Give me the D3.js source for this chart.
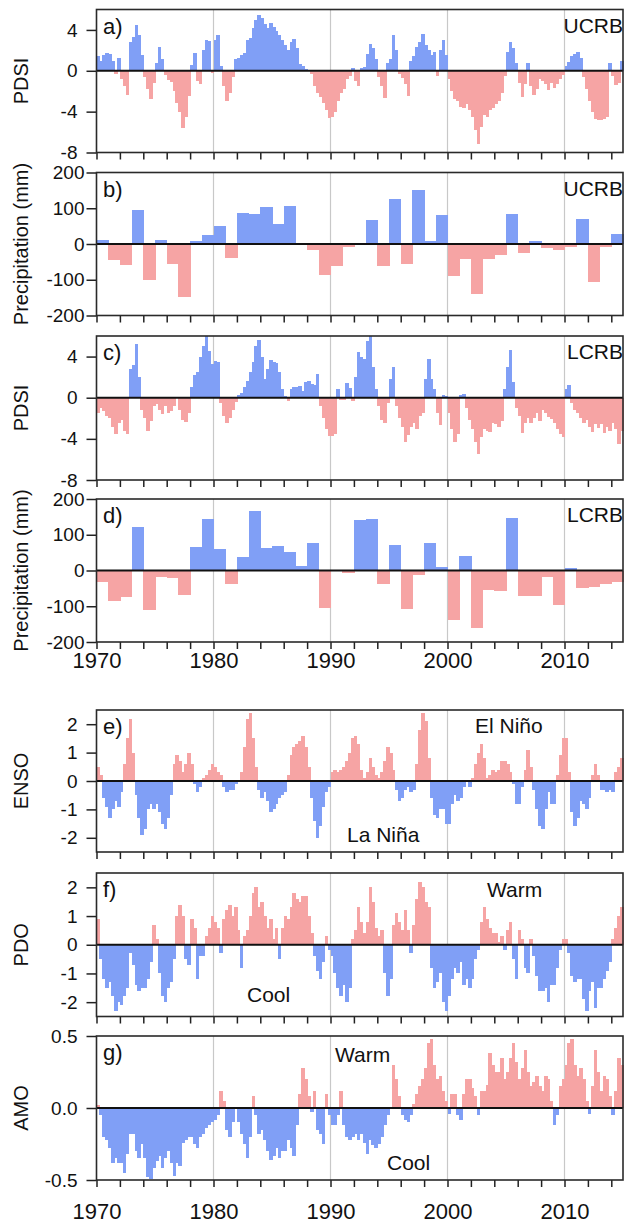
<!DOCTYPE html>
<html>
<head>
<meta charset="utf-8">
<script src="https://cdn.jsdelivr.net/npm/d3@7"></script>
<style>
  body { margin: 0; background: #fff; }
  svg text { font-family: "Liberation Sans", Arial, sans-serif; fill: #111; }
</style>
</head>
<body>
<svg id="chart" width="626" height="1226"></svg>
<script>
"use strict";

// quarterly series, first value = Jan-Mar 1970
var firstYear = 1970;
var quarter = 0.25;

var pdsiUCRB = [
  1.4, 1.0, 1.5, 1.7,   1.6, 1.0, -0.3, 1.3,   -0.8, -1.5, -2.4, 2.8,   3.3, 4.5, 3.5, 1.5,
  -0.6, -1.8, -2.8, -1.2,   0.8, 2.3, 1.2, -0.4,   -0.9, -1.1, -2.0, -3.2,   -4.0, -5.6, -4.5, -2.5,
  0.6, 1.7, -1.0, -1.3,   2.0, 3.0, 2.9, -0.2,   3.0, 3.5, 0.5, -1.5,   -3.0, -2.2, -0.6, 1.2,
  1.3, 1.5, 1.7, 3.0,   3.2, 4.2, 5.0, 5.5,   5.2, 4.6, 4.2, 4.7,   4.3, 3.9, 3.5, 3.0,
  2.5, 2.0, 2.8, 3.1,   2.2, 0.7, 0.5, 0.2,   0.1, -0.3, -1.5, -2.2,   -2.6, -3.2, -3.8, -4.6,
  -4.5, -4.0, -3.0, -2.2,   -1.8, -0.8, -0.5, 0.3,   -1.0, -1.5, 0.3, 0.4,   1.6, 2.6, 2.2, 1.2,
  -0.6, -1.5, -2.7, 0.8,   1.2, 3.5, 2.0, -0.3,   -0.7, -1.3, -2.5, 1.0,   1.4, 2.3, 2.8, 3.6,
  2.5, 2.0, 1.5, 1.8,   -0.5, 2.0, 3.0, 1.5,   -0.8, -2.0, -2.8, -3.0,   -3.5, -3.6, -3.3, -3.8,
  -4.5, -5.8, -7.2, -5.5,   -4.3, -4.5, -3.8, -3.6,   -3.3, -3.0, -2.2, -0.5,   1.8, 2.8, 2.2, 0.8,
  -1.2, -2.6, -1.3, 0.8,   -1.5, -2.4, -1.8, -0.8,   -1.0, -1.3, -1.9, -1.2,   -1.7, -1.3, -0.8, -0.4,
  0.5, 0.9, 1.4, 1.6,   1.8, 1.3, -0.6, -1.8,   -3.0, -4.0, -4.7, -4.8,   -4.8, -4.7, -4.5, 0.8,
  -0.5, -1.4, -1.2, 1.0
];

var pdsiLCRB = [
  -1.5, -1.0, -1.3, -1.8,   -2.0, -2.8, -3.5, -2.5,   -2.2, -3.2, -3.5, 2.8,   3.2, 5.2, 2.0, -1.2,
  -2.0, -3.2, -2.3, -0.8,   -0.6, -1.2, -1.6, -0.8,   -1.5, -1.3, -0.8, 0.1,   -1.2, -2.2, -2.4, -1.5,
  1.0, 2.2, 2.5, 4.0,   5.0, 6.0, 4.5, 3.3,   3.6, 3.5, -0.5, -1.8,   -2.5, -2.0, -1.2, -0.4,
  0.3, 0.5, 1.0, 1.6,   2.5, 3.5, 5.0, 5.6,   4.0, 1.8, 2.8, 3.7,   3.5, 3.4, 2.5, 0.8,
  0.2, -0.3, 0.8, 1.0,   1.0, 1.1, 0.7, 1.5,   1.6, 1.3, 1.2, 2.3,   -0.8, -2.0, -3.0, -3.7,
  -3.7, -3.5, 0.8, -0.2,   -0.2, 1.4, 0.9, -0.3,   2.0, 4.4, 4.0, 3.8,   5.5, 6.0, 3.0, 0.8,
  -0.8, -2.2, -2.5, -0.5,   1.8, 3.0, -0.8, -2.0,   -2.8, -4.3, -3.6, -2.8,   -2.5, -3.0, -1.8, -1.5,
  1.8, 3.8, 1.8, 0.8,   -1.5, -2.7, 0.3, 0.2,   -1.5, -3.0, -4.3, -3.5,   0.3, 0.4, -1.0, -2.2,
  -3.0, -4.3, -5.5, -3.8,   -3.0, -3.2, -3.3, -2.5,   -2.6, -2.8, -2.3, 0.8,   3.0, 4.6, 1.5, -1.0,
  -1.8, -3.4, -2.5, -2.0,   -2.5, -2.0, -1.5, -2.3,   -1.2, -1.5, -1.9, -2.1,   -2.5, -3.0, -3.5, -3.8,
  0.8, 1.2, -0.5, -1.2,   -1.5, -2.0, -2.5, -2.2,   -2.8, -3.3, -2.6, -2.9,   -2.6, -3.4, -2.8, -3.2,
  -2.5, -3.0, -4.5, -3.2
];

var ensoIndex = [
  0.5, 0.2, -0.6, -0.9,   -1.3, -1.0, -0.7, -0.9,   -0.4, 0.6, 1.5, 2.2,   1.0, -0.5, -1.3, -1.9,
  -1.7, -1.0, -0.8, -1.0,   -0.8, -1.1, -1.5, -1.7,   -1.3, -0.5, 0.6, 0.9,   0.7, 0.3, 0.6, 1.0,
  0.6, -0.1, -0.4, -0.2,   0.1, 0.2, 0.4, 0.6,   0.5, 0.3, 0.2, -0.2,   -0.4, -0.3, -0.3, -0.1,
  0.0, 0.3, 1.2, 2.2,   2.4, 1.5, 0.5, -0.3,   -0.6, -0.4, -0.7, -1.1,   -1.0, -0.8, -0.6, -0.5,
  -0.4, 0.2, 0.9, 1.2,   1.3, 1.4, 1.6, 1.2,   0.5, -0.6, -1.4, -2.0,   -1.6, -0.9, -0.4, -0.2,
  0.3, 0.4, 0.3, 0.4,   0.5, 0.7, 1.0, 1.5,   1.6, 1.3, 0.4, 0.1,   0.3, 0.8, 0.5, 0.2,
  0.1, 0.3, 0.7, 1.2,   1.0, 0.4, -0.3, -0.7,   -0.6, -0.3, -0.2, -0.4,   -0.3, 0.6, 1.8, 2.4,
  2.1, 0.8, -0.6, -1.2,   -1.3, -1.0, -1.0, -1.5,   -1.5, -0.8, -0.5, -0.7,   -0.6, -0.2, 0.0, -0.2,
  0.1, 0.6, 1.0, 1.3,   0.8, 0.1, 0.2, 0.4,   0.3, 0.4, 0.7, 0.7,   0.6, 0.3, -0.1, -0.8,
  -0.8, -0.2, 0.4, 1.1,   0.5, -0.3, -1.0, -1.6,   -1.7, -1.0, -0.4, -0.8,   -0.8, 0.2, 0.9, 1.5,
  1.5, 0.3, -1.1, -1.6,   -1.3, -0.7, -0.8, -1.0,   -0.6, 0.2, 0.6, 0.2,   -0.3, -0.3, -0.4, -0.3,
  -0.4, 0.3, 0.5, 0.8
];

var pdoIndex = [
  0.9, -0.5, -1.2, -1.5,   -1.3, -1.8, -2.3, -2.0,   -2.1, -1.8, -1.5, -0.3,   -0.7, -1.4, -1.6, -1.5,
  -1.5, -1.2, -0.6, 0.7,   0.2, -1.0, -1.8, -2.0,   -1.5, -1.3, -0.5, 1.0,   1.4, 1.0, -0.5, -0.7,
  0.9, 0.6, -1.2, -0.4,   -0.4, 0.3, 0.6, 1.0,   0.8, 0.6, -0.3, 0.9,   1.2, 1.4, 1.0, 1.3,
  0.5, -0.8, 0.3, 0.5,   1.0, 1.8, 2.0, 1.3,   1.5, 1.0, 0.6, 0.9,   0.2, 0.6, -0.5, 0.6,
  1.0, 0.9, 1.3, 1.8,   1.6, 1.5, 1.7, 1.7,   1.0, 0.4, -0.4, -0.9,   -1.2, -0.6, 0.3, -0.2,
  -0.4, -1.0, -1.5, -1.8,   -1.4, -2.0, -1.5, 0.2,   0.5, 1.3, 0.8, 0.4,   0.8, 2.0, 1.5, 0.6,
  0.3, 0.5, -1.0, -1.8,   -1.2, 0.7, 1.1, 0.8,   0.5, 1.2, 0.5, -0.3,   0.7, 1.6, 2.2, 2.0,
  1.5, 1.3, -0.8, -1.5,   -1.3, -1.0, -2.0, -2.3,   -1.8, -1.2, -0.8, -1.0,   -0.6, -1.4, -1.2, -1.5,
  -1.2, -0.5, -0.2, 0.8,   1.3, 0.9, 0.6, 0.4,   0.4, 0.1, 0.3, -0.2,   0.5, 0.8, -0.5, -1.2,
  0.5, 0.2, -0.8, -1.0,   0.2, -0.4, -1.1, -1.6,   -1.6, -1.5, -2.0, -1.4,   -1.4, -0.8, -0.2, 0.2,
  0.2, -0.3, -1.1, -1.3,   -1.2, -1.2, -1.9, -2.3,   -1.6, -1.3, -2.2, -1.5,   -1.5, -1.2, -0.9, -0.6,
  0.2, 0.6, 1.0, 1.3
];

var amoIndex = [
  0.02, -0.05, -0.2, -0.22,   -0.28, -0.38, -0.35, -0.38,   -0.38, -0.45, -0.32, -0.18,   -0.18, -0.3, -0.35, -0.25,
  -0.35, -0.48, -0.49, -0.42,   -0.37, -0.33, -0.42, -0.35,   -0.3, -0.38, -0.47, -0.38,   -0.4, -0.24, -0.22, -0.2,
  -0.2, -0.25, -0.28, -0.2,   -0.18, -0.14, -0.12, -0.1,   -0.08, -0.05, 0.12, 0.05,   -0.15, -0.2, -0.1, 0.0,
  -0.1, -0.18, -0.25, -0.35,   -0.2, 0.08, -0.05, -0.18,   -0.15, -0.22, -0.3, -0.36,   -0.33, -0.28, -0.35, -0.3,
  -0.3, -0.22, -0.28, -0.33,   -0.12, 0.1, 0.28, 0.2,   0.08, -0.03, 0.12, -0.15,   -0.18, -0.25, 0.1, -0.05,
  -0.12, -0.12, -0.05, 0.12,   -0.12, -0.2, -0.22, -0.2,   -0.18, -0.22, -0.18, -0.24,   -0.32, -0.22, -0.26, -0.28,
  -0.25, -0.2, -0.12, -0.05,   0.0, 0.3, 0.2, 0.08,   -0.05, -0.08, -0.1, -0.05,   0.03, 0.1, 0.15, 0.2,
  0.28, 0.45, 0.48, 0.3,   0.2, 0.22, 0.12, 0.05,   -0.04, 0.1, 0.1, -0.05,   -0.08, 0.1, 0.2, 0.2,
  0.14, 0.08, -0.05, 0.12,   0.12, 0.16, 0.38, 0.3,   0.25, 0.25, 0.35, 0.2,   0.25, 0.35, 0.45, 0.32,
  0.2, 0.28, 0.4, 0.25,   0.15, 0.18, 0.22, 0.15,   0.12, 0.22, 0.2, 0.05,   -0.12, -0.05, 0.15, 0.2,
  0.3, 0.45, 0.48, 0.3,   0.22, 0.28, 0.2, 0.05,   -0.04, 0.15, 0.4, 0.25,   0.12, 0.22, 0.2, 0.08,
  -0.05, 0.12, 0.35, 0.3
];

// annual precipitation anomaly (mm), 1970-2014
var precipUCRB = [
  12, -44, -58, 95, -102, 12, -56, -147, 8, 25,
  50, -40, 87, 83, 104, 55, 106, 3, -16, -88,
  -61, -8, 2, 67, -62, 127, -55, 150, 7, 80,
  -90, -42, -140, -42, -30, 85, -25, 8, -10, -18,
  -8, 71, -105, -8, 27
];
var precipLCRB = [
  -32, -85, -74, 122, -110, -17, -21, -68, 66, 143,
  59, -39, 39, 167, 63, 69, 53, 13, 76, -105,
  2, -7, 141, 145, -38, 70, -108, -12, 78, 9,
  -139, 40, -160, -55, -57, 146, -72, -72, -17, -96,
  7, -50, -46, -37, -33
];

var yearLabels = [1970, 1980, 1990, 2000, 2010];
var minorTicks = d3.range(1970, 2015, 2);
var gridYears = [1980, 1990, 2000, 2010];

var blue = "#809ff6";
var pink = "#f6a4a4";

var svg = d3.select("#chart");
var x = d3.scaleLinear().domain([1970, 2015]).range([96.5, 623]);

var dash = function(s) { return s.replace("\u2212", "-"); };

function drawPanel(p) {
  var y = d3.scaleLinear().domain(p.domain).range([p.bottom, p.top]);
  var g = svg.append("g");
  var x0 = x.range()[0], x1 = x.range()[1];

  g.selectAll(".grid").data(gridYears).enter().append("line")
    .attr("x1", function(d) { return x(d); })
    .attr("x2", function(d) { return x(d); })
    .attr("y1", p.top).attr("y2", p.bottom)
    .attr("stroke", "#c8c8c8").attr("stroke-width", 1.2);

  g.selectAll(".bar").data(p.values).enter().append("rect")
    .attr("x", function(d, i) { return x(p.start + i * p.step); })
    .attr("width", function(d, i) { return x(p.start + (i + 1) * p.step) - x(p.start + i * p.step) + 0.6; })
    .attr("y", function(d) { return Math.min(y(d), y(0)); })
    .attr("height", function(d) { return Math.abs(y(d) - y(0)); })
    .attr("fill", function(d) { return d >= 0 ? p.pos : p.neg; })
    .attr("shape-rendering", "crispEdges");

  g.append("line")
    .attr("x1", x0).attr("x2", x1).attr("y1", y(0)).attr("y2", y(0))
    .attr("stroke", "#111").attr("stroke-width", 2);

  var ya = g.append("g")
    .attr("transform", "translate(" + x0 + ",0)")
    .call(d3.axisLeft(y).tickValues(p.ticks).tickSize(10).tickPadding(p.pad)
      .tickFormat(function(d) { return dash(p.fmt(d)); }));
  ya.select(".domain").remove();
  ya.attr("font-size", 19).attr("font-family", null).attr("color", "#222");
  ya.selectAll("line").attr("stroke-width", 1.5);

  var xa = g.append("g")
    .attr("transform", "translate(0," + p.bottom + ")")
    .call(d3.axisBottom(x).tickValues(minorTicks).tickSize(7).tickFormat(""));
  xa.select(".domain").remove();
  xa.attr("color", "#222");
  xa.selectAll("line").attr("stroke-width", 1.5);

  g.append("rect")
    .attr("x", x0).attr("y", p.top)
    .attr("width", x1 - x0).attr("height", p.bottom - p.top)
    .attr("fill", "none").attr("stroke", "#2a2a2a").attr("stroke-width", 1.6);

  g.append("text").attr("x", 103).attr("y", p.top + 24)
    .attr("font-size", 22).text(p.letter);

  if (p.region) {
    g.append("text").attr("x", 623).attr("y", p.top + 23)
      .attr("text-anchor", "end").attr("font-size", 21).text(p.region);
  }

  (p.notes || []).forEach(function(n) {
    g.append("text").attr("x", n[0]).attr("y", n[1]).attr("font-size", 21).text(n[2]);
  });

  g.append("text")
    .attr("transform", "translate(21," + ((p.top + p.bottom) / 2) + ") rotate(-90)")
    .attr("text-anchor", "middle").attr("dy", "0.35em")
    .attr("font-size", 20).text(p.title);

  if (p.yearPad !== undefined) {
    var la = g.append("g")
      .attr("transform", "translate(0," + p.bottom + ")")
      .call(d3.axisBottom(x).tickValues(yearLabels).tickSize(0).tickPadding(p.yearPad)
        .tickFormat(d3.format("d")));
    la.select(".domain").remove();
    la.attr("font-size", 22).attr("font-family", null).attr("color", "#111");
  }
}

var intFmt = d3.format("d");
var oneDec = d3.format(".1f");

drawPanel({ letter: "a)", region: "UCRB", title: "PDSI", top: 9.5, bottom: 152.5,
  domain: [-8, 6], ticks: [-8, -4, 0, 4], fmt: intFmt, pad: 9,
  values: pdsiUCRB, start: firstYear, step: quarter, pos: blue, neg: pink });

drawPanel({ letter: "b)", region: "UCRB", title: "Precipitation (mm)", top: 172.5, bottom: 315.5,
  domain: [-200, 200], ticks: [-200, -100, 0, 100, 200], fmt: intFmt, pad: 2,
  values: precipUCRB, start: firstYear, step: 1, pos: blue, neg: pink });

drawPanel({ letter: "c)", region: "LCRB", title: "PDSI", top: 336, bottom: 480,
  domain: [-8, 6], ticks: [-8, -4, 0, 4], fmt: intFmt, pad: 9,
  values: pdsiLCRB, start: firstYear, step: quarter, pos: blue, neg: pink });

drawPanel({ letter: "d)", region: "LCRB", title: "Precipitation (mm)", top: 499, bottom: 642,
  domain: [-200, 200], ticks: [-200, -100, 0, 100, 200], fmt: intFmt, pad: 2,
  values: precipLCRB, start: firstYear, step: 1, pos: blue, neg: pink, yearPad: 10 });

drawPanel({ letter: "e)", title: "ENSO", top: 710, bottom: 852,
  domain: [-2.5, 2.5], ticks: [-2, -1, 0, 1, 2], fmt: intFmt, pad: 9,
  values: ensoIndex, start: firstYear, step: quarter, pos: pink, neg: blue,
  notes: [[475, 733, "El Niño"], [347, 842, "La Niña"]] });

drawPanel({ letter: "f)", title: "PDO", top: 873, bottom: 1016.5,
  domain: [-2.5, 2.5], ticks: [-2, -1, 0, 1, 2], fmt: intFmt, pad: 9,
  values: pdoIndex, start: firstYear, step: quarter, pos: pink, neg: blue,
  notes: [[487, 897, "Warm"], [247, 1002, "Cool"]] });

drawPanel({ letter: "g)", title: "AMO", top: 1036, bottom: 1180,
  domain: [-0.5, 0.5], ticks: [-0.5, 0, 0.5], fmt: oneDec, pad: 9,
  values: amoIndex, start: firstYear, step: quarter, pos: pink, neg: blue,
  notes: [[335, 1062, "Warm"], [387, 1170, "Cool"]], yearPad: 23 });
</script>
</body>
</html>
